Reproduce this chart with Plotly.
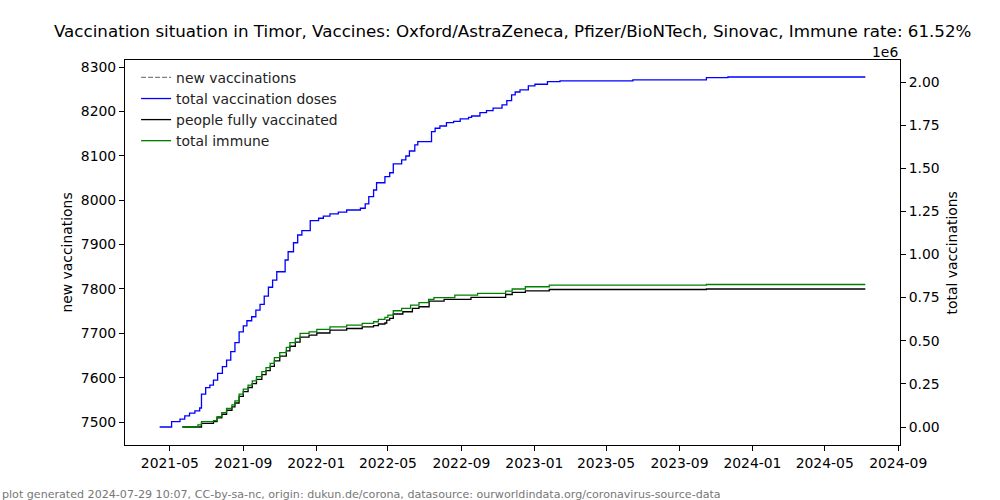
import plotly.graph_objects as go

# ---- data ----
total_dates = ["2021-04-14", "2021-05-04", "2021-05-18", "2021-05-26", "2021-06-03", "2021-06-12",
               "2021-06-20", "2021-06-23", "2021-06-30", "2021-07-07", "2021-07-13", "2021-07-20",
               "2021-07-28", "2021-08-04", "2021-08-11", "2021-08-18", "2021-08-25", "2021-09-01",
               "2021-09-07", "2021-09-15", "2021-09-22", "2021-09-29", "2021-10-06", "2021-10-13",
               "2021-10-20", "2021-10-27", "2021-11-10", "2021-11-15", "2021-11-24", "2021-12-01",
               "2021-12-08", "2021-12-22", "2022-01-05", "2022-01-13", "2022-01-24", "2022-02-07",
               "2022-02-21", "2022-03-16", "2022-03-24", "2022-03-30", "2022-04-07", "2022-04-12",
               "2022-04-26", "2022-05-04", "2022-05-10", "2022-05-24", "2022-05-31", "2022-06-06",
               "2022-06-15", "2022-06-20", "2022-07-13", "2022-07-19", "2022-07-27", "2022-08-07",
               "2022-08-19", "2022-08-30", "2022-09-13", "2022-09-18", "2022-10-02", "2022-10-13",
               "2022-10-24", "2022-11-08", "2022-11-16", "2022-11-24", "2022-11-30", "2022-12-08",
               "2022-12-22", "2023-01-02", "2023-01-23", "2023-02-13", "2023-06-15", "2023-10-16",
               "2023-11-21", "2024-07-08"]
total_vaccinations = [0, 30700, 46000, 64000, 81000, 93000,
                      110000, 190000, 228000, 243000, 272000, 311000,
                      350000, 388000, 437000, 489000, 552000, 586000,
                      616000, 639000, 678000, 711000, 759000, 810000,
                      852000, 900000, 968000, 1016000, 1068000, 1113000,
                      1138000, 1196000, 1210000, 1223000, 1235000, 1246000,
                      1258000, 1268000, 1293000, 1335000, 1374000, 1416000,
                      1451000, 1474000, 1525000, 1548000, 1571000, 1600000,
                      1635000, 1654000, 1712000, 1732000, 1745000, 1764000,
                      1772000, 1786000, 1795000, 1803000, 1822000, 1834000,
                      1848000, 1867000, 1892000, 1925000, 1942000, 1954000,
                      1977000, 1987000, 2002000, 2007000, 2012000, 2025000,
                      2029000, 2029000]

people_dates = ["2021-05-22", "2021-06-23", "2021-07-13", "2021-07-19", "2021-07-27", "2021-08-04",
                "2021-08-13", "2021-08-18", "2021-08-25", "2021-09-01", "2021-09-09", "2021-09-16",
                "2021-09-23", "2021-10-02", "2021-10-09", "2021-10-16", "2021-10-23", "2021-11-01",
                "2021-11-12", "2021-11-18", "2021-11-27", "2021-12-05", "2021-12-20", "2022-01-02",
                "2022-01-24", "2022-02-21", "2022-03-19", "2022-04-07", "2022-04-15", "2022-04-26",
                "2022-04-29", "2022-05-04", "2022-05-10", "2022-05-26", "2022-06-11", "2022-06-22",
                "2022-07-09", "2022-08-03", "2022-09-17", "2022-11-14", "2022-11-25", "2022-12-17",
                "2023-01-26", "2023-10-16", "2024-07-08"]
people_fully_vaccinated = [0, 21000, 31000, 53000, 74000, 97000,
                           117000, 139000, 177000, 205000, 229000, 252000,
                           276000, 304000, 327000, 351000, 383000, 411000,
                           441000, 468000, 492000, 521000, 533000, 545000,
                           562000, 571000, 580000, 588000, 597000, 603000,
                           620000, 630000, 655000, 668000, 688000, 697000,
                           730000, 740000, 751000, 768000, 780000, 789000,
                           797000, 800000, 800000]

immune_dates = ["2021-05-22", "2021-06-17", "2021-06-23", "2021-07-13", "2021-07-19", "2021-07-27",
                "2021-08-04", "2021-08-13", "2021-08-18", "2021-08-25", "2021-09-01", "2021-09-09",
                "2021-09-16", "2021-09-23", "2021-10-02", "2021-10-09", "2021-10-16", "2021-10-23",
                "2021-11-01", "2021-11-12", "2021-11-18", "2021-11-27", "2021-12-05", "2021-12-20",
                "2022-01-02", "2022-01-24", "2022-02-21", "2022-03-19", "2022-04-07", "2022-04-15",
                "2022-04-26", "2022-05-01", "2022-05-10", "2022-05-24", "2022-06-08", "2022-06-22",
                "2022-07-08", "2022-07-17", "2022-08-21", "2022-09-28", "2022-11-14", "2022-11-25",
                "2022-12-17", "2023-01-26", "2023-10-16", "2024-07-08"]
total_immune = [0, 12000, 31000, 37000, 60000, 83000,
                108000, 128000, 151000, 191000, 219000, 243000,
                267000, 292000, 321000, 344000, 369000, 402000,
                431000, 462000, 489000, 514000, 543000, 552000,
                566000, 581000, 591000, 601000, 610000, 624000,
                636000, 649000, 674000, 688000, 707000, 721000,
                740000, 750000, 765000, 775000, 788000, 800000,
                813000, 823000, 826000, 826000]

# new vaccinations: no visible values in the reference (legend entry only)
new_vacc_dates = ["2021-05-01"]
new_vaccinations = [None]

x_tick_vals = ["2021-05-01", "2021-09-01", "2022-01-01", "2022-05-01", "2022-09-01", "2023-01-01",
               "2023-05-01", "2023-09-01", "2024-01-01", "2024-05-01", "2024-09-01"]
x_tick_text = ["2021-05", "2021-09", "2022-01", "2022-05", "2022-09", "2023-01",
               "2023-05", "2023-09", "2024-01", "2024-05", "2024-09"]
left_tick_vals = [7500, 7600, 7700, 7800, 7900, 8000, 8100, 8200, 8300]
right_tick_vals = [0, 250000, 500000, 750000, 1000000, 1250000, 1500000, 1750000, 2000000]
right_tick_text = ["0.00", "0.25", "0.50", "0.75", "1.00", "1.25", "1.50", "1.75", "2.00"]

title = ("Vaccination situation in Timor, Vaccines: Oxford/AstraZeneca, Pfizer/BioNTech, "
         "Sinovac, Immune rate: 61.52%")
footer = ("plot generated 2024-07-29 10:07, CC-by-sa-nc, origin: dukun.de/corona, "
          "datasource: ourworldindata.org/coronavirus-source-data")

FONT = "DejaVu Sans"
fig = go.Figure()
fig.add_trace(go.Scatter(x=new_vacc_dates, y=new_vaccinations, name="new vaccinations",
                         mode="lines", line=dict(color="gray", width=1.2, dash="5px,2px"),
                         yaxis="y", legendgroup="a", showlegend=True))
fig.add_trace(go.Scatter(x=total_dates, y=total_vaccinations, name="total vaccination doses",
                         mode="lines", line=dict(color="blue", width=1.3, shape="hv"),
                         yaxis="y2", legendgroup="b"))
fig.add_trace(go.Scatter(x=people_dates, y=people_fully_vaccinated, name="people fully vaccinated",
                         mode="lines", line=dict(color="black", width=1.3, shape="hv"),
                         yaxis="y2", legendgroup="c"))
fig.add_trace(go.Scatter(x=immune_dates, y=total_immune, name="total immune",
                         mode="lines", line=dict(color="green", width=1.3, shape="hv"),
                         yaxis="y2", legendgroup="d"))

axis_common = dict(showline=True, linecolor="black", linewidth=1, ticks="outside", ticklen=5,
                   tickcolor="black", showgrid=False, zeroline=False, automargin=False,
                   tickfont=dict(family=FONT, size=13.9, color="black"))

fig.update_layout(
    width=1000, height=500,
    margin=dict(l=125, r=100, t=60, b=55, autoexpand=False),
    paper_bgcolor="white", plot_bgcolor="white",
    font=dict(family=FONT, color="black"),
    xaxis=dict(type="date", range=["2021-02-15", "2024-09-04"], tickvals=x_tick_vals,
               ticktext=x_tick_text, mirror=True, **axis_common),
    yaxis=dict(range=[7448.2, 8315.8], tickvals=left_tick_vals, mirror=False, **axis_common),
    yaxis2=dict(range=[-104348, 2127536], tickvals=right_tick_vals, ticktext=right_tick_text,
                overlaying="y", side="right", **axis_common),
    showlegend=True,
    legend=dict(x=0.0143, y=0.995, xanchor="left", yanchor="top", bgcolor="rgba(0,0,0,0)",
                borderwidth=0, font=dict(family=FONT, size=13.9, color="#222"),
                traceorder="grouped", tracegroupgap=0),
    annotations=[
        dict(text=title, xref="paper", yref="paper", x=0.5, y=1.0753, xanchor="center",
             yanchor="middle", showarrow=False, font=dict(family=FONT, size=16.7, color="black")),
        dict(text="new vaccinations", xref="paper", yref="paper", x=-0.0761, y=0.5,
             textangle=-90, showarrow=False, font=dict(family=FONT, size=13.9, color="black"),
             xanchor="center", yanchor="middle"),
        dict(text="total vaccinations", xref="paper", yref="paper", x=1.067, y=0.5,
             textangle=-90, showarrow=False, font=dict(family=FONT, size=13.9, color="black"),
             xanchor="center", yanchor="middle"),
        dict(text="1e6", xref="paper", yref="paper", x=1.0, y=1.0, yshift=-2,
             showarrow=False, font=dict(family=FONT, size=13.9, color="black"),
             xanchor="right", yanchor="bottom"),
        dict(text=footer, xref="paper", yref="paper", x=-0.1613, xanchor="left",
             y=-0.1273, yanchor="middle", showarrow=False,
             font=dict(family=FONT, size=11.1, color="#777")),
    ],
)

fig.write_html("out.html", config={"displayModeBar": False},
               post_script="document.body.style.margin='0';")
